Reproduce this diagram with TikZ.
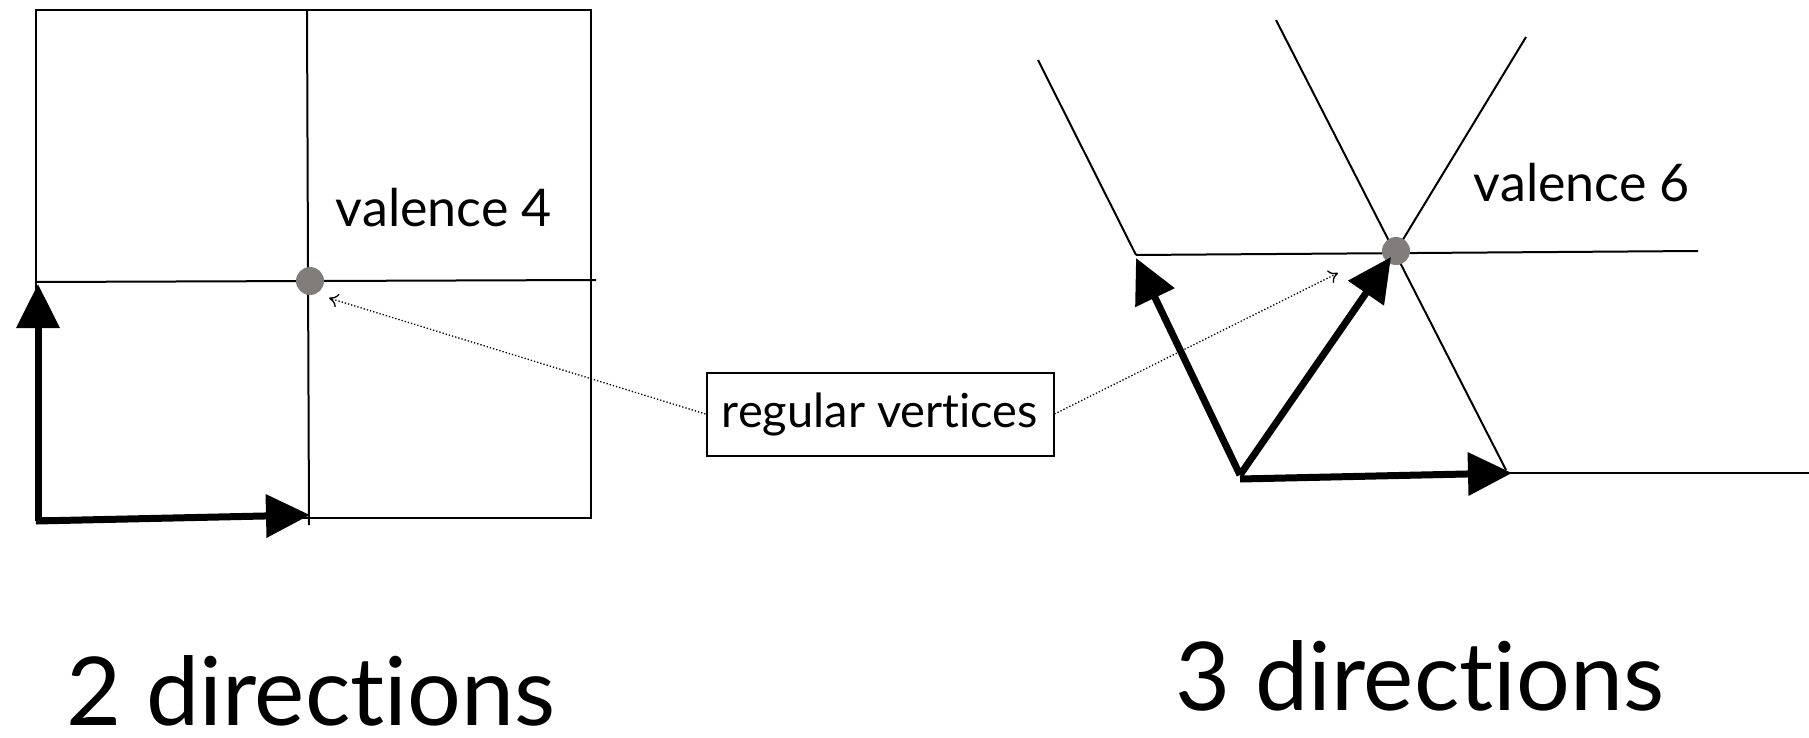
\documentclass[tikz,border=0pt]{standalone}
\usepackage{fontspec}
\setmainfont{Lato}[Ligatures={NoCommon}]
\usetikzlibrary{arrows.meta}
\definecolor{dotgray}{RGB}{128,125,122}
\begin{document}
\begin{tikzpicture}[x=1pt,y=-1pt,
  grid/.style={line width=2pt,black},
  bigarrow/.style={line width=7pt,-{Triangle[length=44pt,width=42pt]}},
  pointer/.style={line width=1.3pt,dotted,-{To[length=9pt,width=14pt,line width=1.3pt,sep=0pt]}, shorten >=0pt},
  vdot/.style={circle,fill=dotgray,inner sep=0pt,minimum size=28pt},
  label/.style={font=\fontsize{52}{56}\selectfont,inner sep=0pt,anchor=base},
  biglabel/.style={font=\fontsize{95}{100}\selectfont,inner sep=0pt,anchor=base},
  boxlabel/.style={draw,line width=2pt,font=\fontsize{47}{50}\selectfont,minimum width=347pt,minimum height=83pt,inner sep=0pt}]
\useasboundingbox (0,0) rectangle (1809,738);
% left grid
\coordinate (sqA) at (36,10);
\coordinate (sqB) at (591,518);
\coordinate (mvT) at (307,10);
\coordinate (mvB) at (309,525);
\coordinate (mhL) at (36,282);
\coordinate (mhR) at (596,280);
\draw[grid] (sqA) rectangle (sqB);
\draw[grid] (mvT) -- (mvB);
\draw[grid] (mhL) -- (mhR);
\node[vdot] (v4) at (310,281) {};
\coordinate (o4) at (38,521);
\coordinate (e1) at (38,284);
\coordinate (e2) at (310,515);
\draw[bigarrow] (o4) -- (e1);
\draw[bigarrow] (36,521) -- (e2);
\node[label] (val4) at (444,226) {valence 4};
% box
\node[boxlabel] (box) at (880,414) {regular vertices};
\coordinate (p4) at (329,298);
\coordinate (p6) at (1338,273);
\draw[pointer] (box.west) -- (p4);
\draw[pointer] (box.east) -- (p6);
% right grid
\coordinate (hL) at (1136,255);
\coordinate (hR) at (1698,251);
\coordinate (l1T) at (1038,60);
\coordinate (l2T) at (1276,20);
\coordinate (l2B) at (1506,470);
\coordinate (l3T) at (1526,37);
\coordinate (bL) at (1506,473);
\coordinate (bR) at (1809,473);
\draw[grid] (hL) -- (hR);
\draw[grid] (l1T) -- (hL);
\draw[grid] (l2T) -- (l2B);
\draw[grid] (l3T) -- (1396,251);
\draw[grid] (bL) -- (bR);
\node[vdot] (v6) at (1396,251) {};
\coordinate (o6) at (1240,475);
\draw[bigarrow] (o6) -- (1136,258);
\draw[bigarrow] (o6) -- (1391,257);
\draw[bigarrow] (1240,479) -- (1512,473);
\node[label] (val6) at (1582,202) {valence 6};
% titles
\node[biglabel] (t2) at (311,725) {\raisebox{0pt}[\height][0pt]{2 directions}};
\node[biglabel] (t3) at (1420,710) {3 directions};
\end{tikzpicture}
\end{document}
